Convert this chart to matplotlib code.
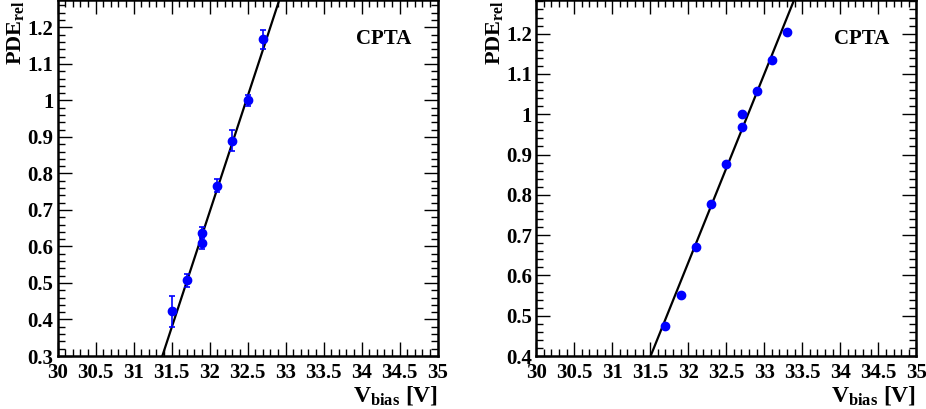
import matplotlib

matplotlib.use("Agg")
import matplotlib.pyplot as plt
import numpy as np
from matplotlib.ticker import MultipleLocator

plt.rcParams["font.family"] = "Liberation Serif"
plt.rcParams["font.weight"] = "bold"
plt.rcParams["mathtext.fontset"] = "custom"
plt.rcParams["mathtext.rm"] = "Liberation Serif:bold"
plt.rcParams["mathtext.it"] = "Liberation Serif:bold"
plt.rcParams["mathtext.bf"] = "Liberation Serif:bold"

# left panel: measured points with errors
v_left = [31.5, 31.7, 31.9, 31.9, 32.1, 32.3, 32.5, 32.7]
pde_left = [0.422, 0.507, 0.638, 0.610, 0.766, 0.890, 1.000, 1.167]
err_left = [0.043, 0.018, 0.016, 0.016, 0.018, 0.028, 0.015, 0.025]
fit_left = (-19.577, 0.6335)  # intercept, slope

# right panel: measured points
v_right = [31.7, 31.9, 32.1, 32.3, 32.5, 32.7, 32.7, 32.9, 33.1, 33.3]
pde_right = [0.475, 0.552, 0.671, 0.776, 0.877, 1.000, 0.969, 1.058, 1.135, 1.205]
fit_right = (-14.344, 0.468)

label_txt = "CPTA"

fig = plt.figure(figsize=(9.26, 4.09), dpi=100)


def draw_panel(ax, x, y, yerr, fit, ylim, xlim=(30, 35)):
    xs = np.linspace(xlim[0], xlim[1], 400)
    ax.plot(xs, fit[0] + fit[1] * xs, color="black", lw=1.6, zorder=2)
    if yerr is not None:
        ax.errorbar(x, y, yerr=yerr, fmt="o", color="#0000ff", ms=6,
                    elinewidth=1.2, capsize=2, capthick=1.2, zorder=3)
    else:
        ax.plot(x, y, "o", color="#0000ff", ms=6, zorder=3)
    ax.set_xlim(*xlim)
    ax.set_ylim(*ylim)
    ax.xaxis.set_major_locator(MultipleLocator(0.5))
    ax.xaxis.set_minor_locator(MultipleLocator(0.1))
    ax.yaxis.set_major_locator(MultipleLocator(0.1))
    ax.yaxis.set_minor_locator(MultipleLocator(0.02))
    ax.xaxis.set_major_formatter(plt.FuncFormatter(lambda v, p: f"{v:g}"))
    ax.yaxis.set_major_formatter(plt.FuncFormatter(lambda v, p: f"{v:g}"))
    ax.tick_params(which="both", direction="in", top=True, right=True,
                   labelsize=15, width=1.0)
    ax.tick_params(which="major", length=10)
    ax.tick_params(which="minor", length=5)
    ax.tick_params(axis="x", pad=5)
    ax.tick_params(axis="y", pad=3)
    for lab in ax.get_xticklabels() + ax.get_yticklabels():
        lab.set_fontweight("bold")
    for s in ax.spines.values():
        s.set_linewidth(1.8)
    ax.set_xlabel(r"$V_{bias}$ [V]", fontsize=17, fontweight="bold",
                  loc="right", labelpad=1)
    ax.set_ylabel(r"PDE$_{rel}$", fontsize=16, fontweight="bold",
                  loc="top", labelpad=1)
    ax.text(0.93, 0.89, label_txt, transform=ax.transAxes, fontsize=15,
            fontweight="bold", ha="right", va="center")


ax1 = fig.add_axes([57.7 / 926, 53 / 409, 380 / 926, 356 / 409])
draw_panel(ax1, v_left, pde_left, err_left, fit_left, (0.3, 1.275))

ax2 = fig.add_axes([536.3 / 926, 53 / 409, 380 / 926, 356 / 409])
draw_panel(ax2, v_right, pde_right, None, fit_right, (0.4, 1.2835))

fig.savefig("out.png", dpi=100)
